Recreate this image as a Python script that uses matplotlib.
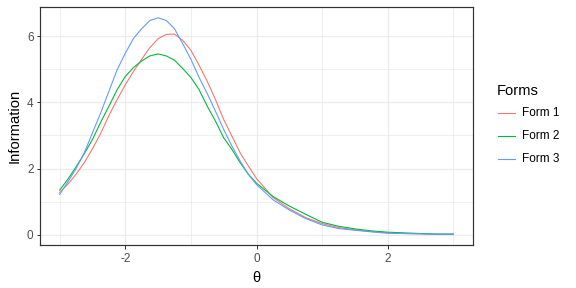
import matplotlib
matplotlib.use("Agg")
import matplotlib.pyplot as plt
from matplotlib.lines import Line2D

plt.rcParams['font.family'] = ['Liberation Sans', 'DejaVu Sans']
plt.rcParams['axes.unicode_minus'] = False

theta = [-3.0, -2.875, -2.75, -2.625, -2.5, -2.375, -2.25, -2.125, -2.0, -1.875,
         -1.75, -1.625, -1.5, -1.375, -1.25, -1.125, -1.0, -0.875, -0.75, -0.625,
         -0.5, -0.375, -0.25, -0.125, 0.0, 0.25, 0.5, 0.75, 1.0, 1.25, 1.5,
         1.75, 2.0, 2.25, 2.5, 2.75, 3.0]

form1 = [1.28, 1.53, 1.83, 2.18, 2.60, 3.06, 3.60, 4.08, 4.53, 4.93,
         5.30, 5.65, 5.92, 6.05, 6.06, 5.87, 5.57, 5.12, 4.63, 4.08,
         3.48, 2.98, 2.48, 2.08, 1.70, 1.13, 0.79, 0.52, 0.34, 0.22, 0.15,
         0.10, 0.06, 0.04, 0.03, 0.02, 0.02]

form2 = [1.35, 1.68, 2.05, 2.45, 2.88, 3.40, 3.88, 4.38, 4.78, 5.05,
         5.25, 5.40, 5.46, 5.40, 5.27, 5.02, 4.75, 4.38, 3.88, 3.43,
         2.93, 2.58, 2.18, 1.83, 1.56, 1.16, 0.87, 0.62, 0.38, 0.26, 0.18,
         0.12, 0.08, 0.06, 0.04, 0.02, 0.02]

form3 = [1.22, 1.60, 2.00, 2.48, 3.08, 3.68, 4.33, 4.98, 5.48, 5.93,
         6.22, 6.47, 6.55, 6.47, 6.22, 5.77, 5.30, 4.75, 4.26, 3.73,
         3.18, 2.68, 2.23, 1.83, 1.52, 1.06, 0.75, 0.49, 0.30, 0.19, 0.14,
         0.09, 0.05, 0.04, 0.03, 0.02, 0.02]

series_names = ["Form 1", "Form 2", "Form 3"]
series_colors = ["#F8766D", "#00BA38", "#619CFF"]
x_ticks = [-2, 0, 2]
y_ticks = [0, 2, 4, 6]

W, H = 576, 288
fig = plt.figure(figsize=(8, 4), dpi=72)
ax = fig.add_axes([40 / W, 1 - 245 / H, (473 - 40) / W, (245 - 7) / H])

for vals, name, col in zip([form1, form2, form3], series_names, series_colors):
    ax.plot(theta, vals, color=col, lw=1.1, label=name, zorder=3)

xmin, xmax = min(theta), max(theta)
allv = form1 + form2 + form3
ymin, ymax = min(allv), max(allv)
ax.set_xlim(xmin - 0.05 * (xmax - xmin), xmax + 0.05 * (xmax - xmin))
ax.set_ylim(ymin - 0.05 * (ymax - ymin), ymax + 0.05 * (ymax - ymin))

ax.set_xticks(x_ticks)
ax.set_yticks(y_ticks)
ax.set_xticklabels([str(t) for t in x_ticks])
ax.set_yticklabels([str(t) for t in y_ticks])
ax.set_xticks([-3, -1, 1, 3], minor=True)
ax.set_yticks([1, 3, 5], minor=True)
ax.grid(which='major', color='#EBEBEB', lw=1.2, zorder=0)
ax.grid(which='minor', color='#EBEBEB', lw=0.8, zorder=0)
ax.set_axisbelow(True)
ax.tick_params(which='major', length=3.5, width=1.0, color='#333333',
               labelsize=11.7, labelcolor='#4D4D4D')
ax.tick_params(axis='x', which='major', pad=5)
ax.tick_params(axis='y', which='major', pad=3)
ax.tick_params(which='minor', length=0)
for s in ax.spines.values():
    s.set_color('#333333')
    s.set_linewidth(1.2)

ax.set_xlabel("θ", fontsize=14.7, color='black', labelpad=5)
ax.set_ylabel("Information", fontsize=14.7, color='black', labelpad=5)

# legend
fig.text(497 / W, 1 - 91 / H, "Forms", fontsize=14.7, ha='left', va='center')
for i, (name, col) in enumerate(zip(series_names, series_colors)):
    yk = 1 - (112.5 + 23.3 * i) / H
    fig.add_artist(Line2D([498 / W, 515 / W], [yk, yk], color=col, lw=1.1,
                          transform=fig.transFigure))
    fig.text(522 / W, yk, name, fontsize=11.7, ha='left', va='center')

fig.savefig("out.png", dpi=72)
